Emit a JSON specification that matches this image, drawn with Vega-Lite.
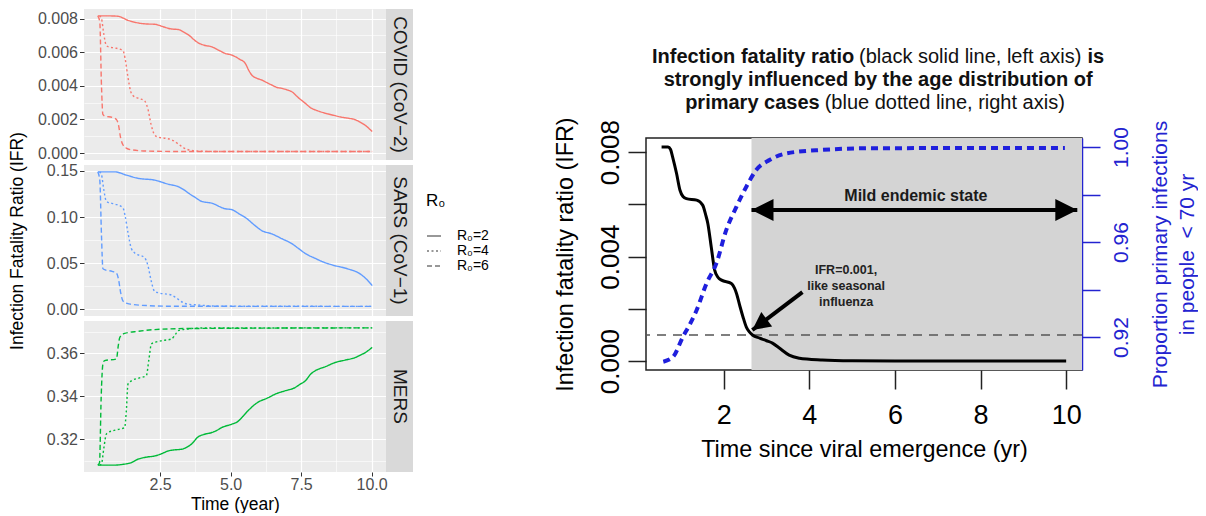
{
  "$schema": "https://vega.github.io/schema/vega-lite/v6.json",
  "background": "white",
  "padding": {"left": 8, "top": 9, "right": 0, "bottom": 0},
  "config": {
    "font": "Liberation Sans",
    "view": {"stroke": null},
    "axis": {"labelFont": "Liberation Sans", "titleFont": "Liberation Sans", "titleFontWeight": "normal", "labelFlush": false, "labelOverlap": false}
  },
  "datasets": {
    "ifr_by_r0": [
      {"virus":"COVID","R0":"R₀=2","year":0.29,"ifr":0.00816},{"virus":"COVID","R0":"R₀=2","year":0.6,"ifr":0.00816},{"virus":"COVID","R0":"R₀=2","year":1.0,"ifr":0.00814},{"virus":"COVID","R0":"R₀=2","year":1.35,"ifr":0.0079},{"virus":"COVID","R0":"R₀=2","year":1.72,"ifr":0.00774},{"virus":"COVID","R0":"R₀=2","year":2.0,"ifr":0.00768},{"virus":"COVID","R0":"R₀=2","year":2.31,"ifr":0.00766},{"virus":"COVID","R0":"R₀=2","year":2.6,"ifr":0.00752},{"virus":"COVID","R0":"R₀=2","year":2.9,"ifr":0.00738},{"virus":"COVID","R0":"R₀=2","year":3.14,"ifr":0.00735},{"virus":"COVID","R0":"R₀=2","year":3.32,"ifr":0.00721},{"virus":"COVID","R0":"R₀=2","year":3.55,"ifr":0.00697},{"virus":"COVID","R0":"R₀=2","year":3.73,"ifr":0.0067},{"virus":"COVID","R0":"R₀=2","year":3.85,"ifr":0.00656},{"virus":"COVID","R0":"R₀=2","year":4.05,"ifr":0.00642},{"virus":"COVID","R0":"R₀=2","year":4.33,"ifr":0.00632},{"virus":"COVID","R0":"R₀=2","year":4.6,"ifr":0.0061},{"virus":"COVID","R0":"R₀=2","year":4.8,"ifr":0.00593},{"virus":"COVID","R0":"R₀=2","year":5.04,"ifr":0.00583},{"virus":"COVID","R0":"R₀=2","year":5.3,"ifr":0.0056},{"virus":"COVID","R0":"R₀=2","year":5.52,"ifr":0.00533},{"virus":"COVID","R0":"R₀=2","year":5.65,"ifr":0.0049},{"virus":"COVID","R0":"R₀=2","year":5.75,"ifr":0.00464},{"virus":"COVID","R0":"R₀=2","year":5.9,"ifr":0.00447},{"virus":"COVID","R0":"R₀=2","year":6.1,"ifr":0.00435},{"virus":"COVID","R0":"R₀=2","year":6.3,"ifr":0.00418},{"virus":"COVID","R0":"R₀=2","year":6.46,"ifr":0.00405},{"virus":"COVID","R0":"R₀=2","year":6.65,"ifr":0.0039},{"virus":"COVID","R0":"R₀=2","year":6.82,"ifr":0.00385},{"virus":"COVID","R0":"R₀=2","year":7.0,"ifr":0.00376},{"virus":"COVID","R0":"R₀=2","year":7.17,"ifr":0.00365},{"virus":"COVID","R0":"R₀=2","year":7.4,"ifr":0.0033},{"virus":"COVID","R0":"R₀=2","year":7.65,"ifr":0.00296},{"virus":"COVID","R0":"R₀=2","year":7.85,"ifr":0.00268},{"virus":"COVID","R0":"R₀=2","year":8.0,"ifr":0.00257},{"virus":"COVID","R0":"R₀=2","year":8.3,"ifr":0.0024},{"virus":"COVID","R0":"R₀=2","year":8.6,"ifr":0.00227},{"virus":"COVID","R0":"R₀=2","year":8.9,"ifr":0.00215},{"virus":"COVID","R0":"R₀=2","year":9.19,"ifr":0.00207},{"virus":"COVID","R0":"R₀=2","year":9.4,"ifr":0.002},{"virus":"COVID","R0":"R₀=2","year":9.55,"ifr":0.00188},{"virus":"COVID","R0":"R₀=2","year":9.8,"ifr":0.00162},{"virus":"COVID","R0":"R₀=2","year":10.02,"ifr":0.00128},
      {"virus":"COVID","R0":"R₀=4","year":0.35,"ifr":0.00816},{"virus":"COVID","R0":"R₀=4","year":0.42,"ifr":0.008},{"virus":"COVID","R0":"R₀=4","year":0.5,"ifr":0.0071},{"virus":"COVID","R0":"R₀=4","year":0.59,"ifr":0.0064},{"virus":"COVID","R0":"R₀=4","year":0.7,"ifr":0.0063},{"virus":"COVID","R0":"R₀=4","year":0.9,"ifr":0.00625},{"virus":"COVID","R0":"R₀=4","year":1.18,"ifr":0.0061},{"virus":"COVID","R0":"R₀=4","year":1.26,"ifr":0.0056},{"virus":"COVID","R0":"R₀=4","year":1.36,"ifr":0.0045},{"virus":"COVID","R0":"R₀=4","year":1.45,"ifr":0.0037},{"virus":"COVID","R0":"R₀=4","year":1.55,"ifr":0.0034},{"virus":"COVID","R0":"R₀=4","year":1.75,"ifr":0.00325},{"virus":"COVID","R0":"R₀=4","year":1.95,"ifr":0.0031},{"virus":"COVID","R0":"R₀=4","year":2.07,"ifr":0.0026},{"virus":"COVID","R0":"R₀=4","year":2.18,"ifr":0.0017},{"virus":"COVID","R0":"R₀=4","year":2.3,"ifr":0.0011},{"virus":"COVID","R0":"R₀=4","year":2.43,"ifr":0.00095},{"virus":"COVID","R0":"R₀=4","year":2.7,"ifr":0.00088},{"virus":"COVID","R0":"R₀=4","year":2.9,"ifr":0.0008},{"virus":"COVID","R0":"R₀=4","year":3.14,"ifr":0.00055},{"virus":"COVID","R0":"R₀=4","year":3.35,"ifr":0.0003},{"virus":"COVID","R0":"R₀=4","year":3.5,"ifr":0.0002},{"virus":"COVID","R0":"R₀=4","year":3.85,"ifr":0.00012},{"virus":"COVID","R0":"R₀=4","year":4.5,"ifr":0.0001},{"virus":"COVID","R0":"R₀=4","year":10.02,"ifr":0.0001},
      {"virus":"COVID","R0":"R₀=6","year":0.29,"ifr":0.00816},{"virus":"COVID","R0":"R₀=6","year":0.36,"ifr":0.0078},{"virus":"COVID","R0":"R₀=6","year":0.42,"ifr":0.004},{"virus":"COVID","R0":"R₀=6","year":0.47,"ifr":0.0023},{"virus":"COVID","R0":"R₀=6","year":0.55,"ifr":0.0022},{"virus":"COVID","R0":"R₀=6","year":0.8,"ifr":0.00212},{"virus":"COVID","R0":"R₀=6","year":0.95,"ifr":0.002},{"virus":"COVID","R0":"R₀=6","year":1.02,"ifr":0.0017},{"virus":"COVID","R0":"R₀=6","year":1.1,"ifr":0.0009},{"virus":"COVID","R0":"R₀=6","year":1.18,"ifr":0.0005},{"virus":"COVID","R0":"R₀=6","year":1.3,"ifr":0.0003},{"virus":"COVID","R0":"R₀=6","year":1.48,"ifr":0.0002},{"virus":"COVID","R0":"R₀=6","year":2.07,"ifr":0.00012},{"virus":"COVID","R0":"R₀=6","year":3.0,"ifr":0.0001},{"virus":"COVID","R0":"R₀=6","year":10.02,"ifr":0.0001},
      {"virus":"SARS","R0":"R₀=2","year":0.29,"ifr":0.149},{"virus":"SARS","R0":"R₀=2","year":0.9,"ifr":0.149},{"virus":"SARS","R0":"R₀=2","year":1.3,"ifr":0.1455},{"virus":"SARS","R0":"R₀=2","year":1.72,"ifr":0.142},{"virus":"SARS","R0":"R₀=2","year":2.31,"ifr":0.14},{"virus":"SARS","R0":"R₀=2","year":2.8,"ifr":0.1355},{"virus":"SARS","R0":"R₀=2","year":3.14,"ifr":0.133},{"virus":"SARS","R0":"R₀=2","year":3.32,"ifr":0.13},{"virus":"SARS","R0":"R₀=2","year":3.55,"ifr":0.125},{"virus":"SARS","R0":"R₀=2","year":3.73,"ifr":0.1215},{"virus":"SARS","R0":"R₀=2","year":3.97,"ifr":0.117},{"virus":"SARS","R0":"R₀=2","year":4.33,"ifr":0.115},{"virus":"SARS","R0":"R₀=2","year":4.8,"ifr":0.109},{"virus":"SARS","R0":"R₀=2","year":5.04,"ifr":0.108},{"virus":"SARS","R0":"R₀=2","year":5.3,"ifr":0.1035},{"virus":"SARS","R0":"R₀=2","year":5.52,"ifr":0.0995},{"virus":"SARS","R0":"R₀=2","year":5.87,"ifr":0.0906},{"virus":"SARS","R0":"R₀=2","year":6.1,"ifr":0.0853},{"virus":"SARS","R0":"R₀=2","year":6.46,"ifr":0.0817},{"virus":"SARS","R0":"R₀=2","year":6.82,"ifr":0.0764},{"virus":"SARS","R0":"R₀=2","year":7.17,"ifr":0.0711},{"virus":"SARS","R0":"R₀=2","year":7.4,"ifr":0.066},{"virus":"SARS","R0":"R₀=2","year":7.65,"ifr":0.0604},{"virus":"SARS","R0":"R₀=2","year":8.0,"ifr":0.0551},{"virus":"SARS","R0":"R₀=2","year":8.3,"ifr":0.051},{"virus":"SARS","R0":"R₀=2","year":8.6,"ifr":0.048},{"virus":"SARS","R0":"R₀=2","year":9.19,"ifr":0.0434},{"virus":"SARS","R0":"R₀=2","year":9.55,"ifr":0.0391},{"virus":"SARS","R0":"R₀=2","year":9.8,"ifr":0.033},{"virus":"SARS","R0":"R₀=2","year":10.02,"ifr":0.0256},
      {"virus":"SARS","R0":"R₀=4","year":0.35,"ifr":0.149},{"virus":"SARS","R0":"R₀=4","year":0.42,"ifr":0.146},{"virus":"SARS","R0":"R₀=4","year":0.5,"ifr":0.13},{"virus":"SARS","R0":"R₀=4","year":0.59,"ifr":0.117},{"virus":"SARS","R0":"R₀=4","year":0.65,"ifr":0.116},{"virus":"SARS","R0":"R₀=4","year":0.9,"ifr":0.114},{"virus":"SARS","R0":"R₀=4","year":1.18,"ifr":0.11},{"virus":"SARS","R0":"R₀=4","year":1.26,"ifr":0.101},{"virus":"SARS","R0":"R₀=4","year":1.36,"ifr":0.083},{"virus":"SARS","R0":"R₀=4","year":1.48,"ifr":0.0657},{"virus":"SARS","R0":"R₀=4","year":1.6,"ifr":0.061},{"virus":"SARS","R0":"R₀=4","year":1.95,"ifr":0.0558},{"virus":"SARS","R0":"R₀=4","year":2.07,"ifr":0.047},{"virus":"SARS","R0":"R₀=4","year":2.18,"ifr":0.031},{"virus":"SARS","R0":"R₀=4","year":2.3,"ifr":0.0195},{"virus":"SARS","R0":"R₀=4","year":2.43,"ifr":0.0178},{"virus":"SARS","R0":"R₀=4","year":2.9,"ifr":0.0153},{"virus":"SARS","R0":"R₀=4","year":3.14,"ifr":0.0107},{"virus":"SARS","R0":"R₀=4","year":3.35,"ifr":0.0065},{"virus":"SARS","R0":"R₀=4","year":3.5,"ifr":0.0053},{"virus":"SARS","R0":"R₀=4","year":3.85,"ifr":0.0045},{"virus":"SARS","R0":"R₀=4","year":4.5,"ifr":0.0033},{"virus":"SARS","R0":"R₀=4","year":10.02,"ifr":0.003},
      {"virus":"SARS","R0":"R₀=6","year":0.29,"ifr":0.149},{"virus":"SARS","R0":"R₀=6","year":0.36,"ifr":0.14},{"virus":"SARS","R0":"R₀=6","year":0.42,"ifr":0.08},{"virus":"SARS","R0":"R₀=6","year":0.47,"ifr":0.044},{"virus":"SARS","R0":"R₀=6","year":0.55,"ifr":0.0426},{"virus":"SARS","R0":"R₀=6","year":0.8,"ifr":0.041},{"virus":"SARS","R0":"R₀=6","year":0.95,"ifr":0.039},{"virus":"SARS","R0":"R₀=6","year":1.02,"ifr":0.033},{"virus":"SARS","R0":"R₀=6","year":1.1,"ifr":0.018},{"virus":"SARS","R0":"R₀=6","year":1.18,"ifr":0.0089},{"virus":"SARS","R0":"R₀=6","year":1.3,"ifr":0.0065},{"virus":"SARS","R0":"R₀=6","year":1.48,"ifr":0.0053},{"virus":"SARS","R0":"R₀=6","year":2.07,"ifr":0.0038},{"virus":"SARS","R0":"R₀=6","year":3.0,"ifr":0.0031},{"virus":"SARS","R0":"R₀=6","year":10.02,"ifr":0.003},
      {"virus":"MERS","R0":"R₀=2","year":0.29,"ifr":0.3079},{"virus":"MERS","R0":"R₀=2","year":0.88,"ifr":0.3079},{"virus":"MERS","R0":"R₀=2","year":1.2,"ifr":0.3083},{"virus":"MERS","R0":"R₀=2","year":1.48,"ifr":0.3091},{"virus":"MERS","R0":"R₀=2","year":1.72,"ifr":0.3107},{"virus":"MERS","R0":"R₀=2","year":2.0,"ifr":0.3116},{"virus":"MERS","R0":"R₀=2","year":2.31,"ifr":0.3122},{"virus":"MERS","R0":"R₀=2","year":2.55,"ifr":0.3132},{"virus":"MERS","R0":"R₀=2","year":2.78,"ifr":0.3145},{"virus":"MERS","R0":"R₀=2","year":3.0,"ifr":0.315},{"virus":"MERS","R0":"R₀=2","year":3.26,"ifr":0.3153},{"virus":"MERS","R0":"R₀=2","year":3.45,"ifr":0.3163},{"virus":"MERS","R0":"R₀=2","year":3.61,"ifr":0.3177},{"virus":"MERS","R0":"R₀=2","year":3.85,"ifr":0.3211},{"virus":"MERS","R0":"R₀=2","year":4.05,"ifr":0.3222},{"virus":"MERS","R0":"R₀=2","year":4.33,"ifr":0.3231},{"virus":"MERS","R0":"R₀=2","year":4.5,"ifr":0.324},{"virus":"MERS","R0":"R₀=2","year":4.68,"ifr":0.3254},{"virus":"MERS","R0":"R₀=2","year":5.04,"ifr":0.327},{"virus":"MERS","R0":"R₀=2","year":5.25,"ifr":0.3282},{"virus":"MERS","R0":"R₀=2","year":5.4,"ifr":0.3301},{"virus":"MERS","R0":"R₀=2","year":5.6,"ifr":0.333},{"virus":"MERS","R0":"R₀=2","year":5.87,"ifr":0.3363},{"virus":"MERS","R0":"R₀=2","year":6.05,"ifr":0.3378},{"virus":"MERS","R0":"R₀=2","year":6.22,"ifr":0.3387},{"virus":"MERS","R0":"R₀=2","year":6.4,"ifr":0.3398},{"virus":"MERS","R0":"R₀=2","year":6.58,"ifr":0.341},{"virus":"MERS","R0":"R₀=2","year":6.94,"ifr":0.3426},{"virus":"MERS","R0":"R₀=2","year":7.29,"ifr":0.3441},{"virus":"MERS","R0":"R₀=2","year":7.45,"ifr":0.3455},{"virus":"MERS","R0":"R₀=2","year":7.65,"ifr":0.3472},{"virus":"MERS","R0":"R₀=2","year":7.85,"ifr":0.3505},{"virus":"MERS","R0":"R₀=2","year":8.0,"ifr":0.3519},{"virus":"MERS","R0":"R₀=2","year":8.36,"ifr":0.3538},{"virus":"MERS","R0":"R₀=2","year":8.72,"ifr":0.3558},{"virus":"MERS","R0":"R₀=2","year":9.07,"ifr":0.3569},{"virus":"MERS","R0":"R₀=2","year":9.43,"ifr":0.3581},{"virus":"MERS","R0":"R₀=2","year":9.6,"ifr":0.3592},{"virus":"MERS","R0":"R₀=2","year":9.79,"ifr":0.3605},{"virus":"MERS","R0":"R₀=2","year":10.02,"ifr":0.3628},
      {"virus":"MERS","R0":"R₀=4","year":0.35,"ifr":0.3079},{"virus":"MERS","R0":"R₀=4","year":0.42,"ifr":0.3085},{"virus":"MERS","R0":"R₀=4","year":0.5,"ifr":0.3155},{"virus":"MERS","R0":"R₀=4","year":0.59,"ifr":0.3223},{"virus":"MERS","R0":"R₀=4","year":0.65,"ifr":0.323},{"virus":"MERS","R0":"R₀=4","year":0.9,"ifr":0.3242},{"virus":"MERS","R0":"R₀=4","year":1.24,"ifr":0.3254},{"virus":"MERS","R0":"R₀=4","year":1.3,"ifr":0.333},{"virus":"MERS","R0":"R₀=4","year":1.36,"ifr":0.3457},{"virus":"MERS","R0":"R₀=4","year":1.48,"ifr":0.3472},{"virus":"MERS","R0":"R₀=4","year":1.75,"ifr":0.3485},{"virus":"MERS","R0":"R₀=4","year":2.01,"ifr":0.3496},{"virus":"MERS","R0":"R₀=4","year":2.1,"ifr":0.357},{"virus":"MERS","R0":"R₀=4","year":2.19,"ifr":0.3644},{"virus":"MERS","R0":"R₀=4","year":2.31,"ifr":0.3651},{"virus":"MERS","R0":"R₀=4","year":2.6,"ifr":0.366},{"virus":"MERS","R0":"R₀=4","year":2.9,"ifr":0.3667},{"virus":"MERS","R0":"R₀=4","year":3.05,"ifr":0.369},{"virus":"MERS","R0":"R₀=4","year":3.14,"ifr":0.3706},{"virus":"MERS","R0":"R₀=4","year":3.5,"ifr":0.3714},{"virus":"MERS","R0":"R₀=4","year":3.85,"ifr":0.3718},{"virus":"MERS","R0":"R₀=4","year":10.02,"ifr":0.3719},
      {"virus":"MERS","R0":"R₀=6","year":0.29,"ifr":0.3079},{"virus":"MERS","R0":"R₀=6","year":0.35,"ifr":0.309},{"virus":"MERS","R0":"R₀=6","year":0.41,"ifr":0.34},{"virus":"MERS","R0":"R₀=6","year":0.47,"ifr":0.355},{"virus":"MERS","R0":"R₀=6","year":0.53,"ifr":0.3566},{"virus":"MERS","R0":"R₀=6","year":0.95,"ifr":0.3574},{"virus":"MERS","R0":"R₀=6","year":1.02,"ifr":0.364},{"virus":"MERS","R0":"R₀=6","year":1.07,"ifr":0.3675},{"virus":"MERS","R0":"R₀=6","year":1.24,"ifr":0.3693},{"virus":"MERS","R0":"R₀=6","year":1.72,"ifr":0.3703},{"virus":"MERS","R0":"R₀=6","year":2.31,"ifr":0.3711},{"virus":"MERS","R0":"R₀=6","year":3.5,"ifr":0.3716},{"virus":"MERS","R0":"R₀=6","year":10.02,"ifr":0.3719}
    ],
    "title_key": [
      {"line":1,"start":0.326,"text":"Infection fatality ratio"},
      {"line":1,"start":10.5,"text":"is"},
      {"line":2,"start":0.598,"text":"strongly influenced by the age distribution of"},
      {"line":3,"start":1.1,"text":"primary cases"}
    ],
    "title_note": [
      {"line":1,"start":5.163,"text":"(black solid line, left axis)"},
      {"line":3,"start":4.36,"text":"(blue dotted line, right axis)"}
    ],
    "endemic_period": [{"start":2.65,"end":10.37}],
    "ifr_reference": [{"ifr":0.001}],
    "ifr_curve": [
      {"year":0.55,"ifr":0.0082},{"year":0.7,"ifr":0.0082},{"year":0.76,"ifr":0.0081},{"year":0.81,"ifr":0.0078},{"year":0.9,"ifr":0.00718},{"year":0.98,"ifr":0.00654},{"year":1.05,"ifr":0.0063},{"year":1.13,"ifr":0.00622},{"year":1.37,"ifr":0.00616},{"year":1.51,"ifr":0.00597},{"year":1.58,"ifr":0.0056},{"year":1.63,"ifr":0.00527},{"year":1.71,"ifr":0.00437},{"year":1.79,"ifr":0.00348},{"year":1.87,"ifr":0.0032},{"year":1.95,"ifr":0.0031},{"year":2.18,"ifr":0.00297},{"year":2.25,"ifr":0.0028},{"year":2.3,"ifr":0.00259},{"year":2.38,"ifr":0.0021},{"year":2.45,"ifr":0.0017},{"year":2.53,"ifr":0.0013},{"year":2.6,"ifr":0.00112},{"year":2.68,"ifr":0.00099},{"year":2.84,"ifr":0.00088},{"year":3.0,"ifr":0.00078},{"year":3.14,"ifr":0.00069},{"year":3.3,"ifr":0.0005},{"year":3.53,"ifr":0.00023},{"year":3.77,"ifr":0.00011},{"year":4.0,"ifr":0.00007},{"year":4.3,"ifr":0.00004},{"year":5.0,"ifr":0.00001},{"year":6.0,"ifr":0.0},{"year":10.0,"ifr":0.0}
    ],
    "young_share": [
      {"year":0.59,"share":0.9096},{"year":0.82,"share":0.9117},{"year":1.05,"share":0.9201},{"year":1.2,"share":0.925},{"year":1.37,"share":0.9314},{"year":1.6,"share":0.9426},{"year":1.83,"share":0.951},{"year":2.06,"share":0.965},{"year":2.3,"share":0.9749},{"year":2.53,"share":0.9833},{"year":2.76,"share":0.9903},{"year":3.07,"share":0.9945},{"year":3.46,"share":0.9973},{"year":4.3,"share":0.9988},{"year":5.47,"share":0.9995},{"year":9.97,"share":0.9996}
    ],
    "endemic_arrow": [{"from":2.65,"to":10.26,"ifr":0.00578}],
    "endemic_label": [{"year":6.49,"ifr":0.00631,"text":"Mild endemic state"}],
    "influenza_arrow": [{"tail_year":3.84,"tail_ifr":0.00264,"tip_year":2.67,"tip_ifr":0.00119}],
    "influenza_note": [
      {"year":4.86,"ifr":0.00348,"text":"IFR=0.001,"},
      {"year":4.86,"ifr":0.00287,"text":"like seasonal"},
      {"year":4.86,"ifr":0.00226,"text":"influenza"}
    ]
  },
  "spacing": 139,
  "hconcat": [
    {
      "columns": 2,
      "bounds": "flush",
      "spacing": {"row": 5, "column": 0},
      "concat": [
        {
          "width": 302, "height": 151,
          "view": {"fill": "#EBEBEB", "stroke": null},
          "data": {"name": "ifr_by_r0"},
          "transform": [{"filter": "datum.virus === 'COVID'"}],
          "mark": {"type": "line", "color": "#F8766D", "strokeWidth": 1.4, "interpolate": "monotone"},
          "encoding": {
            "x": {"field": "year", "type": "quantitative", "scale": {"domain": [-0.2, 10.51], "nice": false, "zero": false},
                  "axis": {"values": [1.25, 2.5, 3.75, 5, 6.25, 7.5, 8.75, 10], "labels": false, "ticks": false, "domain": false, "title": null, "gridColor": "#FFFFFF",
                           "gridWidth": {"condition": {"test": "datum.value % 2.5 !== 0", "value": 0.6}, "value": 1.2}}},
            "y": {"field": "ifr", "type": "quantitative", "scale": {"domain": [-0.000408, 0.008568], "nice": false, "zero": false},
                  "axis": {"values": [0, 0.001, 0.002, 0.003, 0.004, 0.005, 0.006, 0.007, 0.008], "format": ".3f", "labelOverlap": false,
                           "labelExpr": "round(datum.value * 1000) % 2 === 1 ? '' : datum.label",
                           "gridWidth": {"condition": {"test": "round(datum.value * 1000) % 2 === 1", "value": 0.6}, "value": 1.2},
                           "tickOpacity": {"condition": {"test": "round(datum.value * 1000) % 2 === 1", "value": 0}, "value": 1},
                           "title": null, "domain": false, "gridColor": "#FFFFFF", "tickColor": "#333333", "tickSize": 4.5, "labelPadding": 2, "labelFontSize": 16, "labelColor": "#4D4D4D"}},
            "strokeDash": {"field": "R0", "type": "nominal",
                  "scale": {"domain": ["R₀=2", "R₀=4", "R₀=6"], "range": [[1, 0], [2, 2.5], [5, 3]]},
                  "legend": {"title": "R₀", "orient": "none", "legendX": 342, "legendY": 184, "titleFontSize": 17, "titleFontWeight": "normal", "titleColor": "#000000", "titlePadding": 18, "labelFontSize": 14, "labelColor": "#000000", "labelOffset": 15, "symbolType": "stroke", "symbolStrokeColor": "#333333", "symbolStrokeWidth": 1.2, "symbolSize": 196, "rowPadding": 0}}
          }
        },
        {
          "width": 27, "height": 151,
          "view": {"fill": "#D9D9D9", "stroke": null},
          "data": {"values": [{"virus": "COVID (CoV−2)"}]},
          "mark": {"type": "text", "angle": 90, "fontSize": 19, "color": "#1A1A1A", "baseline": "middle", "align": "center"},
          "encoding": {"text": {"field": "virus"}}
        },
        {
          "width": 302, "height": 151,
          "view": {"fill": "#EBEBEB", "stroke": null},
          "data": {"name": "ifr_by_r0"},
          "transform": [{"filter": "datum.virus === 'SARS'"}],
          "mark": {"type": "line", "color": "#619CFF", "strokeWidth": 1.4, "interpolate": "monotone"},
          "encoding": {
            "x": {"field": "year", "type": "quantitative", "scale": {"domain": [-0.2, 10.51], "nice": false, "zero": false},
                  "axis": {"values": [1.25, 2.5, 3.75, 5, 6.25, 7.5, 8.75, 10], "labels": false, "ticks": false, "domain": false, "title": null, "gridColor": "#FFFFFF",
                           "gridWidth": {"condition": {"test": "datum.value % 2.5 !== 0", "value": 0.6}, "value": 1.2}}},
            "y": {"field": "ifr", "type": "quantitative", "scale": {"domain": [-0.00745, 0.15645], "nice": false, "zero": false},
                  "axis": {"values": [0, 0.025, 0.05, 0.075, 0.1, 0.125, 0.15], "format": ".2f", "labelOverlap": false,
                           "labelExpr": "round(datum.value * 1000) % 50 !== 0 ? '' : datum.label",
                           "gridWidth": {"condition": {"test": "round(datum.value * 1000) % 50 !== 0", "value": 0.6}, "value": 1.2},
                           "tickOpacity": {"condition": {"test": "round(datum.value * 1000) % 50 !== 0", "value": 0}, "value": 1},
                           "title": "Infection Fatality Ratio (IFR)", "titleFontSize": 17.5, "titleColor": "#000000", "titlePadding": 20, "domain": false, "gridColor": "#FFFFFF", "tickColor": "#333333", "tickSize": 4.5, "labelPadding": 2, "labelFontSize": 16, "labelColor": "#4D4D4D"}},
            "strokeDash": {"field": "R0", "type": "nominal",
                  "scale": {"domain": ["R₀=2", "R₀=4", "R₀=6"], "range": [[1, 0], [2, 2.5], [5, 3]]},
                  "legend": {"title": "R₀", "orient": "none", "legendX": 342, "legendY": 184, "titleFontSize": 17, "titleFontWeight": "normal", "titleColor": "#000000", "titlePadding": 18, "labelFontSize": 14, "labelColor": "#000000", "labelOffset": 15, "symbolType": "stroke", "symbolStrokeColor": "#333333", "symbolStrokeWidth": 1.2, "symbolSize": 196, "rowPadding": 0}}
          }
        },
        {
          "width": 27, "height": 151,
          "view": {"fill": "#D9D9D9", "stroke": null},
          "data": {"values": [{"virus": "SARS (CoV−1)"}]},
          "mark": {"type": "text", "angle": 90, "fontSize": 19, "color": "#1A1A1A", "baseline": "middle", "align": "center"},
          "encoding": {"text": {"field": "virus"}}
        },
        {
          "width": 302, "height": 151,
          "view": {"fill": "#EBEBEB", "stroke": null},
          "data": {"name": "ifr_by_r0"},
          "transform": [{"filter": "datum.virus === 'MERS'"}],
          "mark": {"type": "line", "color": "#00BA38", "strokeWidth": 1.4, "interpolate": "monotone"},
          "encoding": {
            "x": {"field": "year", "type": "quantitative", "scale": {"domain": [-0.2, 10.51], "nice": false, "zero": false},
                  "axis": {"values": [1.25, 2.5, 3.75, 5, 6.25, 7.5, 8.75, 10], "format": ".1f", "labelOverlap": false,
                           "labelExpr": "datum.value % 2.5 !== 0 ? '' : datum.label",
                           "gridWidth": {"condition": {"test": "datum.value % 2.5 !== 0", "value": 0.6}, "value": 1.2},
                           "tickOpacity": {"condition": {"test": "datum.value % 2.5 !== 0", "value": 0}, "value": 1},
                           "title": "Time (year)", "titleFontSize": 17.5, "titleColor": "#000000", "titlePadding": 3, "domain": false, "gridColor": "#FFFFFF", "tickColor": "#333333", "tickSize": 4, "labelPadding": 0, "labelFontSize": 16, "labelColor": "#4D4D4D"}},
            "y": {"field": "ifr", "type": "quantitative", "scale": {"domain": [0.3047, 0.3751], "nice": false, "zero": false},
                  "axis": {"values": [0.31, 0.32, 0.33, 0.34, 0.35, 0.36, 0.37], "format": ".2f", "labelOverlap": false,
                           "labelExpr": "round(datum.value * 100) % 2 === 1 ? '' : datum.label",
                           "gridWidth": {"condition": {"test": "round(datum.value * 100) % 2 === 1", "value": 0.6}, "value": 1.2},
                           "tickOpacity": {"condition": {"test": "round(datum.value * 100) % 2 === 1", "value": 0}, "value": 1},
                           "title": null, "domain": false, "gridColor": "#FFFFFF", "tickColor": "#333333", "tickSize": 4.5, "labelPadding": 2, "labelFontSize": 16, "labelColor": "#4D4D4D"}},
            "strokeDash": {"field": "R0", "type": "nominal",
                  "scale": {"domain": ["R₀=2", "R₀=4", "R₀=6"], "range": [[1, 0], [2, 2.5], [5, 3]]},
                  "legend": {"title": "R₀", "orient": "none", "legendX": 342, "legendY": 184, "titleFontSize": 17, "titleFontWeight": "normal", "titleColor": "#000000", "titlePadding": 18, "labelFontSize": 14, "labelColor": "#000000", "labelOffset": 15, "symbolType": "stroke", "symbolStrokeColor": "#333333", "symbolStrokeWidth": 1.2, "symbolSize": 196, "rowPadding": 0}}
          }
        },
        {
          "width": 27, "height": 151,
          "view": {"fill": "#D9D9D9", "stroke": null},
          "data": {"values": [{"virus": "MERS"}]},
          "mark": {"type": "text", "angle": 90, "fontSize": 19, "color": "#1A1A1A", "baseline": "middle", "align": "center"},
          "encoding": {"text": {"field": "virus"}}
        }
      ]
    },
    {
      "spacing": 9,
      "bounds": "flush",
      "vconcat": [
        {
          "width": 436, "height": 120,
          "view": {"stroke": null},
          "layer": [
            {
              "data": {"name": "title_key"},
              "mark": {"type": "text", "align": "left", "baseline": "middle", "fontSize": 20, "fontWeight": "bold", "color": "#111111"},
              "encoding": {
                "x": {"field": "start", "type": "quantitative", "scale": {"domain": [0.186, 10.37], "nice": false, "zero": false}, "axis": null},
                "y": {"field": "line", "type": "quantitative", "scale": {"domain": [-1.087, 4.13], "reverse": true, "nice": false, "zero": false}, "axis": null},
                "text": {"field": "text"}
              }
            },
            {
              "data": {"name": "title_note"},
              "mark": {"type": "text", "align": "left", "baseline": "middle", "fontSize": 20, "fontWeight": "normal", "color": "#111111"},
              "encoding": {
                "x": {"field": "start", "type": "quantitative"},
                "y": {"field": "line", "type": "quantitative"},
                "text": {"field": "text"}
              }
            }
          ]
        },
        {
          "width": 436, "height": 232,
          "view": {"stroke": "#222222", "strokeWidth": 1.5},
          "resolve": {"scale": {"y": "independent"}},
          "layer": [
            {
              "layer": [
                {
                  "data": {"name": "endemic_period"},
                  "mark": {"type": "rect", "color": "#D4D4D4"},
                  "encoding": {
                    "x": {"field": "start", "type": "quantitative", "scale": {"domain": [0.186, 10.37], "nice": false, "zero": false},
                          "axis": {"values": [2, 4, 6, 8, 10], "format": "d", "title": "Time since viral emergence (yr)", "titleFontSize": 23.4, "titleColor": "#000000", "titlePadding": 10, "domain": false, "grid": false, "tickColor": "#222222", "tickWidth": 1.5, "tickSize": 19, "labelPadding": 13, "labelFontSize": 27, "labelColor": "#000000"}},
                    "x2": {"field": "end"}
                  }
                },
                {
                  "data": {"name": "ifr_reference"},
                  "mark": {"type": "rule", "color": "#555555", "strokeWidth": 1.5, "strokeDash": [9, 7]},
                  "encoding": {
                    "y": {"field": "ifr", "type": "quantitative", "scale": {"domain": [-0.00034, 0.00854], "nice": false, "zero": false},
                          "axis": {"orient": "left", "values": [0, 0.002, 0.004, 0.006, 0.008], "format": ".3f", "labelExpr": "indexof(['0.000', '0.004', '0.008'], datum.label) >= 0 ? datum.label : ''", "labelAngle": -90, "labelAlign": "center", "labelBaseline": "alphabetic", "labelPadding": 10, "labelFontSize": 26, "labelColor": "#000000", "tickColor": "#222222", "tickWidth": 1.5, "tickSize": 18, "domain": false, "grid": false, "title": "Infection fatality ratio (IFR)", "titleFontSize": 23.4, "titleColor": "#000000", "titlePadding": 20}}
                  }
                },
                {
                  "data": {"name": "ifr_curve"},
                  "mark": {"type": "line", "color": "#000000", "strokeWidth": 3, "interpolate": "monotone"},
                  "encoding": {
                    "x": {"field": "year", "type": "quantitative"},
                    "y": {"field": "ifr", "type": "quantitative"}
                  }
                },
                {
                  "data": {"name": "endemic_arrow"},
                  "mark": {"type": "rule", "color": "#000000", "strokeWidth": 4},
                  "encoding": {
                    "x": {"field": "from", "type": "quantitative"},
                    "x2": {"field": "to"},
                    "y": {"field": "ifr", "type": "quantitative"}
                  }
                },
                {
                  "data": {"name": "endemic_arrow"},
                  "mark": {"type": "point", "shape": "M0,0L2,-1L2,1Z", "size": 484, "filled": true, "color": "#000000", "opacity": 1},
                  "encoding": {
                    "x": {"field": "from", "type": "quantitative"},
                    "y": {"field": "ifr", "type": "quantitative"}
                  }
                },
                {
                  "data": {"name": "endemic_arrow"},
                  "mark": {"type": "point", "shape": "M0,0L-2,-1L-2,1Z", "size": 484, "filled": true, "color": "#000000", "opacity": 1},
                  "encoding": {
                    "x": {"field": "to", "type": "quantitative"},
                    "y": {"field": "ifr", "type": "quantitative"}
                  }
                },
                {
                  "data": {"name": "endemic_label"},
                  "mark": {"type": "text", "fontSize": 16, "fontWeight": "bold", "color": "#1A1A1A", "align": "center", "baseline": "middle"},
                  "encoding": {
                    "x": {"field": "year", "type": "quantitative"},
                    "y": {"field": "ifr", "type": "quantitative"},
                    "text": {"field": "text"}
                  }
                },
                {
                  "data": {"name": "influenza_arrow"},
                  "mark": {"type": "rule", "color": "#000000", "strokeWidth": 4},
                  "encoding": {
                    "x": {"field": "tail_year", "type": "quantitative"},
                    "y": {"field": "tail_ifr", "type": "quantitative"},
                    "x2": {"field": "tip_year"},
                    "y2": {"field": "tip_ifr"}
                  }
                },
                {
                  "data": {"name": "influenza_arrow"},
                  "mark": {"type": "point", "shape": "M0,0L2,-1L2,1Z", "size": 324, "angle": 323, "filled": true, "color": "#000000", "opacity": 1},
                  "encoding": {
                    "x": {"field": "tip_year", "type": "quantitative"},
                    "y": {"field": "tip_ifr", "type": "quantitative"}
                  }
                },
                {
                  "data": {"name": "influenza_note"},
                  "mark": {"type": "text", "fontSize": 12.5, "fontWeight": "bold", "color": "#222222", "align": "center", "baseline": "middle"},
                  "encoding": {
                    "x": {"field": "year", "type": "quantitative"},
                    "y": {"field": "ifr", "type": "quantitative"},
                    "text": {"field": "text"}
                  }
                }
              ]
            },
            {
              "data": {"name": "young_share"},
              "mark": {"type": "line", "color": "#1F1FDD", "strokeWidth": 4, "strokeDash": [7, 5], "interpolate": "monotone"},
              "encoding": {
                "x": {"field": "year", "type": "quantitative"},
                "y": {"field": "share", "type": "quantitative", "scale": {"domain": [0.9061, 1.0038], "nice": false, "zero": false},
                      "axis": {"orient": "right", "values": [0.92, 0.94, 0.96, 0.98, 1.0], "format": ".2f", "labelExpr": "indexof(['0.92', '0.96', '1.00'], datum.label) >= 0 ? datum.label : ''", "labelAngle": -90, "labelAlign": "center", "labelBaseline": "top", "labelPadding": 10, "labelFontSize": 21, "labelColor": "#2323D0", "tickColor": "#2323D0", "tickWidth": 1.5, "tickSize": 18, "domain": true, "domainColor": "#2323D0", "domainWidth": 1.5, "grid": false, "title": ["Proportion primary infections", "in people\u00a0 < 70 yr"], "titleAngle": -90, "titleFontSize": 21, "titleLineHeight": 27, "titleColor": "#2323D0", "titlePadding": 12}}
              }
            }
          ]
        }
      ]
    }
  ]
}
